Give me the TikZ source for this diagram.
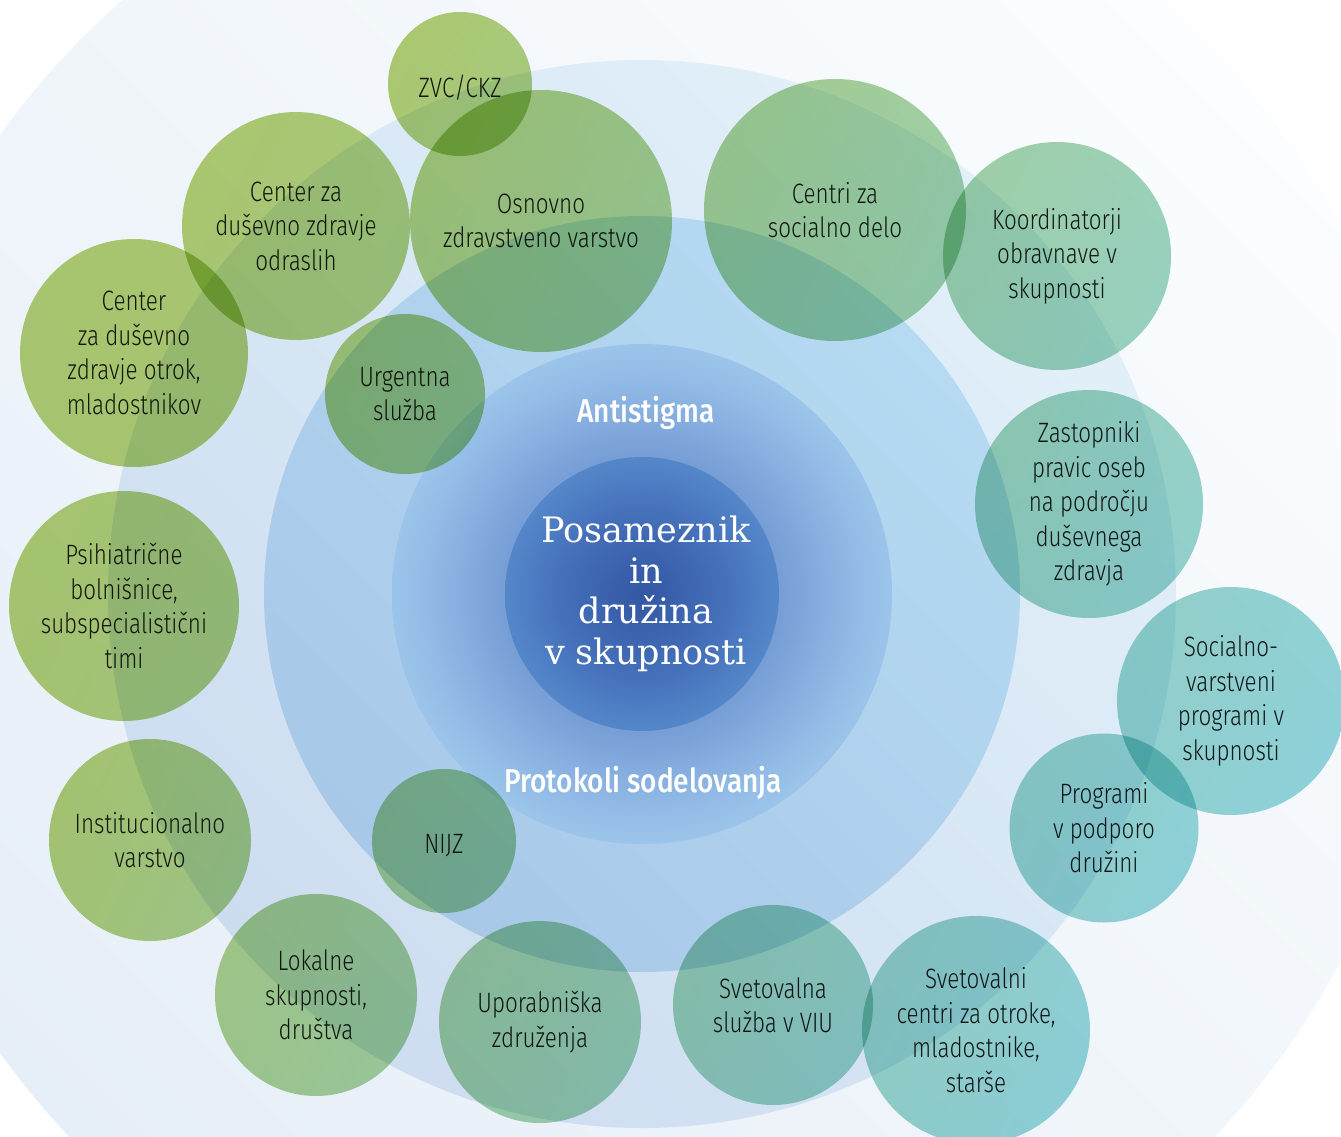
\documentclass[tikz,border=0pt]{standalone}
\usepackage{fontspec}
\usepackage{xcolor}
\usepackage{tikz}
\newfontfamily\bubblefont[FakeStretch=0.8]{Fira Sans Light}
\newfontfamily\ringfont[FakeStretch=0.85]{Fira Sans Medium}
\newfontfamily\corefont{DejaVu Serif}

\definecolor{bgreen}{HTML}{B3CE72}
\definecolor{bteal}{HTML}{94D6DC}
\definecolor{ink}{HTML}{1E1E1E}
\definecolor{outerlight}{HTML}{FBFDFE}
\definecolor{outerdark}{HTML}{E6EEF7}
\definecolor{bandlight}{HTML}{E2F0F9}
\definecolor{banddark}{HTML}{CDDDF0}
\definecolor{ringlight}{HTML}{B6DAF2}
\definecolor{ringdark}{HTML}{A8C8E8}

\pgfdeclareradialshading{haloshade}{\pgfpoint{0bp}{0bp}}{rgb(0bp)=(0.42,0.56,0.80); rgb(14bp)=(0.47,0.62,0.84); rgb(20bp)=(0.55,0.71,0.89); rgb(23bp)=(0.59,0.75,0.91); rgb(25bp)=(0.61,0.77,0.92); rgb(50bp)=(0.61,0.77,0.92)}
\pgfdeclareradialshading{coreshade}{\pgfpoint{0bp}{0bp}}{rgb(0bp)=(0.20,0.34,0.64); rgb(15bp)=(0.27,0.44,0.73); rgb(25bp)=(0.33,0.53,0.79); rgb(50bp)=(0.33,0.53,0.79)}

\begin{document}
\begin{tikzpicture}[x=1pt, y=-1pt,
  bubble/.style 2 args={circle, inner sep=0pt, align=center, text=ink,
    font=\bubblefont\fontsize{28}{34.5}\selectfont,
    execute at begin node=\rule{0pt}{29pt},
    top color=bteal!#1!bgreen, bottom color=bteal!#2!bgreen,
    shading angle=63.4, blend mode=multiply},
  ringlabel/.style={text=white, font=\ringfont\fontsize{33}{40}\selectfont}]

\useasboundingbox (0,0) rectangle (1341,1137);
\fill[white] (0,0) rectangle (1341,1137);

% Obroči okoli posameznika
\shade[top color=outerlight, bottom color=outerdark, shading angle=-45] (642,594) circle[radius=789];
\shade[top color=bandlight, bottom color=banddark, shading angle=-45] (642,594) circle[radius=534];
\shade[top color=ringlight, bottom color=ringdark, shading angle=-45] (642,594) circle[radius=378];
\shade[shading=haloshade] (642,594) circle[radius=250];
\shade[shading=coreshade] (642,594) circle[radius=137];

\node[text=white, align=center, font=\corefont\fontsize{35}{40.6}\selectfont] (core) at (646,594) {Posameznik\\in\\družina\\v skupnosti};
\node[ringlabel] (antistigma) at (646,413) {Antistigma};
\node[ringlabel] (protokoli) at (643,783) {Protokoli sodelovanja};

% Zdravstvo
\node[bubble={0}{13}, minimum size=144pt] (zvc) at (460,84) {ZVC/CKZ};
\node[bubble={6}{31}, minimum size=262pt] (osnovno) at (541,221) {Osnovno\\zdravstveno varstvo};
\node[bubble={0}{9}, minimum size=228pt] (odrasli) at (296,226) {Center za\\duševno zdravje\\odraslih};
\node[bubble={0}{1}, minimum size=228pt] (otroci) at (134,353) {Center\\za duševno\\zdravje otrok,\\mladostnikov};
\node[bubble={7}{22}, minimum size=160pt] (urgenca) at (405,394) {Urgentna\\služba};
\node[bubble={0}{10}, minimum size=230pt] (psihiatrija) at (124,606) {Psihiatrične\\bolnišnice,\\subspecialistični\\timi};
\node[bubble={2}{21}, minimum size=202pt] (institucije) at (150,840) {Institucionalno\\varstvo};
\node[bubble={30}{43}, minimum size=144pt] (nijz) at (444,841) {NIJZ};

% Skupnost
\node[bubble={23}{41}, minimum size=202pt] (lokalne) at (316,995) {Lokalne\\skupnosti,\\društva};
\node[bubble={42}{61}, minimum size=202pt] (uporabniki) at (540,1022) {Uporabniška\\združenja};
\node[bubble={61}{80}, minimum size=200pt] (viu) at (773,1005) {Svetovalna\\služba v VIU};
\node[bubble={78}{99}, minimum size=228pt] (svetovalni) at (976,1030) {Svetovalni\\centri za otroke,\\mladostnike,\\starše};
\node[bubble={82}{99}, minimum size=189pt] (druzina) at (1104,828) {Programi\\v podporo\\družini};
\node[bubble={85}{100}, minimum size=228pt] (socialno) at (1231,701) {Socialno-\\varstveni\\programi v\\skupnosti};

% Socialno varstvo
\node[bubble={65}{87}, minimum size=228pt] (zastopniki) at (1089,504) {Zastopniki\\pravic oseb\\na področju\\duševnega\\zdravja};
\node[bubble={52}{74}, minimum size=228pt] (koordinatorji) at (1057,256) {Koordinatorji\\obravnave v\\skupnosti};
\node[bubble={30}{55}, minimum size=262pt] (csd) at (835,210) {Centri za\\socialno delo};

\end{tikzpicture}
\end{document}
